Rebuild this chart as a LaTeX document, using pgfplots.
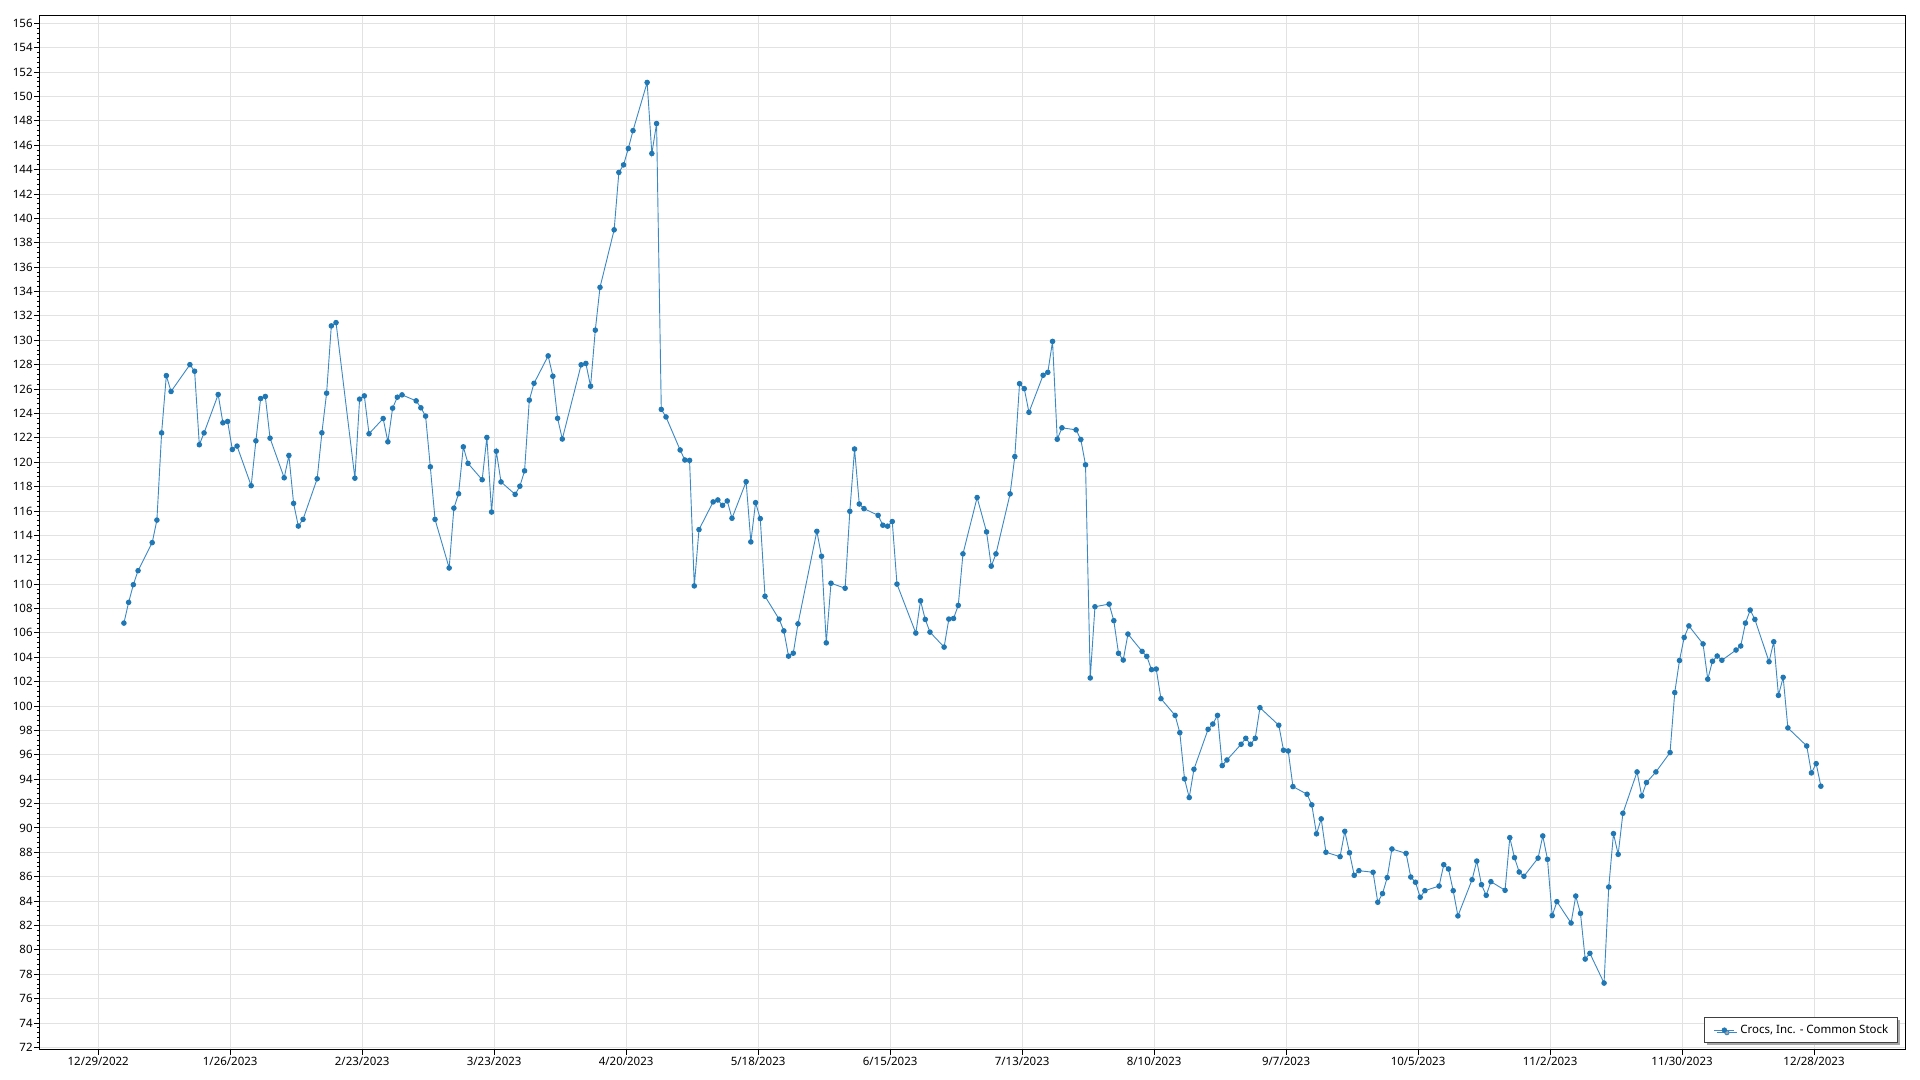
\documentclass[border=0pt]{standalone}
\usepackage{pgfplots}
\usepackage{pgfplotstable}
\pgfplotsset{compat=1.18}
\usepackage{fontspec}
\setmainfont{Noto Sans}
\usetikzlibrary{shadows}

\definecolor{lineblue}{HTML}{3A88C4}
\definecolor{markblue}{HTML}{1F77B4}
\definecolor{gridgray}{HTML}{E2E2E2}

% day = days after 12/29/2022, closing price
\pgfplotstableread{
day price
5 106.8
6 108.5
7 109.95
8 111.1
11 113.4
12 115.25
13 122.4
14 127.1
15 125.8
19 128.0
20 127.46
21 121.43
22 122.4
25 125.55
26 123.23
27 123.34
28 121.04
29 121.32
32 118.07
33 121.75
34 125.22
35 125.39
36 121.97
39 118.72
40 120.55
41 116.62
42 114.76
43 115.31
46 118.64
47 122.41
48 125.66
49 131.18
50 131.45
54 118.69
55 125.17
56 125.44
57 122.33
60 123.58
61 121.67
62 124.43
63 125.33
64 125.52
67 125.03
68 124.46
69 123.78
70 119.62
71 115.31
74 111.32
75 116.23
76 117.41
77 121.26
78 119.9
81 118.56
82 122.03
83 115.91
84 120.9
85 118.38
88 117.36
89 118.03
90 119.29
91 125.09
92 126.47
95 128.72
96 127.05
97 123.6
98 121.9
102 127.99
103 128.1
104 126.23
105 130.83
106 134.34
109 139.06
110 143.77
111 144.39
112 145.73
113 147.2
116 151.15
117 145.32
118 147.78
119 124.33
120 123.71
123 121.0
124 120.18
125 120.15
126 109.85
127 114.47
130 116.74
131 116.9
132 116.46
133 116.82
134 115.4
137 118.4
138 113.46
139 116.68
140 115.37
141 109.0
144 107.12
145 106.16
146 104.09
147 104.33
148 106.74
152 114.33
153 112.28
154 105.18
155 110.07
158 109.66
159 115.97
160 121.08
161 116.57
162 116.19
165 115.64
166 114.83
167 114.75
168 115.13
169 110.0
173 105.98
174 108.63
175 107.1
176 106.06
179 104.83
180 107.13
181 107.18
182 108.25
183 112.48
186 117.1
188 114.28
189 111.47
190 112.48
193 117.4
194 120.46
195 126.44
196 126.03
197 124.09
200 127.13
201 127.37
202 129.91
203 121.88
204 122.82
207 122.65
208 121.86
209 119.78
210 102.3
211 108.14
214 108.36
215 107.0
216 104.32
217 103.77
218 105.9
221 104.48
222 104.07
223 102.98
224 103.03
225 100.6
228 99.23
229 97.81
230 94.02
231 92.49
232 94.81
235 98.09
236 98.52
237 99.23
238 95.11
239 95.57
242 96.86
243 97.35
244 96.86
245 97.35
246 99.86
250 98.42
251 96.37
252 96.31
253 93.39
256 92.76
257 91.89
258 89.51
259 90.74
260 88.0
263 87.64
264 89.72
265 87.96
266 86.11
267 86.49
270 86.36
271 83.9
272 84.61
273 85.92
274 88.27
277 87.91
278 85.97
279 85.54
280 84.31
281 84.85
284 85.23
285 86.98
286 86.63
287 84.85
288 82.78
291 85.75
292 87.28
293 85.34
294 84.47
295 85.59
298 84.88
299 89.2
300 87.56
301 86.38
302 86.03
305 87.52
306 89.34
307 87.42
308 82.8
309 83.95
312 82.2
313 84.41
314 82.99
315 79.24
316 79.71
319 77.27
320 85.15
321 89.53
322 87.83
323 91.2
326 94.59
327 92.62
328 93.72
330 94.59
333 96.18
334 101.1
335 103.73
336 105.62
337 106.57
340 105.09
341 102.2
342 103.67
343 104.1
344 103.75
347 104.59
348 104.92
349 106.8
350 107.87
351 107.1
354 103.63
355 105.27
356 100.87
357 102.35
358 98.2
362 96.72
363 94.51
364 95.27
365 93.42
}\crocs

\begin{document}
\begin{tikzpicture}
\begin{axis}[
    scale only axis,
    width=1865.7bp, height=1035bp,
    xmin=-12.95, xmax=382.85,
    ymin=71.78, ymax=156.68,
    xtick={-0.45,27.55,55.55,83.55,111.55,139.55,167.55,195.55,223.55,251.55,279.55,307.55,335.55,363.55},
    xticklabels={12/29/2022,1/26/2023,2/23/2023,3/23/2023,4/20/2023,5/18/2023,6/15/2023,7/13/2023,8/10/2023,9/7/2023,10/5/2023,11/2/2023,11/30/2023,12/28/2023},
    ytick={72,74,...,156},
    minor y tick num=4,
    grid=major,
    major grid style={gridgray, line width=0.8bp},
    tick align=outside,
    xtick pos=bottom, ytick pos=left,
    major tick length=5bp, minor tick length=2.5bp,
    every tick/.style={black, line width=0.8bp},
    axis line style={black, line width=1bp},
    ticklabel style={font=\fontsize{11.5bp}{13bp}\selectfont},
    yticklabel style={/pgf/number format/assume math mode=true, inner sep=1.5bp},
    xticklabel style={inner sep=2bp},
    legend style={
        at={(1,0)}, anchor=south east, xshift=-6.7bp, yshift=7.3bp,
        draw=black!75, line width=1bp, fill=white,
        drop shadow={shadow xshift=2.5bp, shadow yshift=-2.5bp, fill=black!35, opacity=1},
        font=\fontsize{11.5bp}{14bp}\selectfont,
        inner xsep=9.5bp, inner ysep=5bp,
        nodes={inner xsep=0bp},
    },
    legend cell align=left,
    legend image code/.code={
        \draw[lineblue, line width=1bp] (0bp,0bp) -- (20bp,0bp);
        \fill[markblue] (10bp,0bp) circle (2.2bp);
        \path (25.5bp,0bp);
    },
]
\addplot[lineblue, line width=0.9bp, mark=*, mark size=2.3bp,
    mark options={draw=markblue, fill=markblue}] table[x=day, y=price] {\crocs};
\addlegendentry{Crocs, Inc. - Common Stock}
\end{axis}
\path (current axis.south west) ++(-39.3bp,-30bp) rectangle ++(1920bp,1080bp);
\end{tikzpicture}
\end{document}
